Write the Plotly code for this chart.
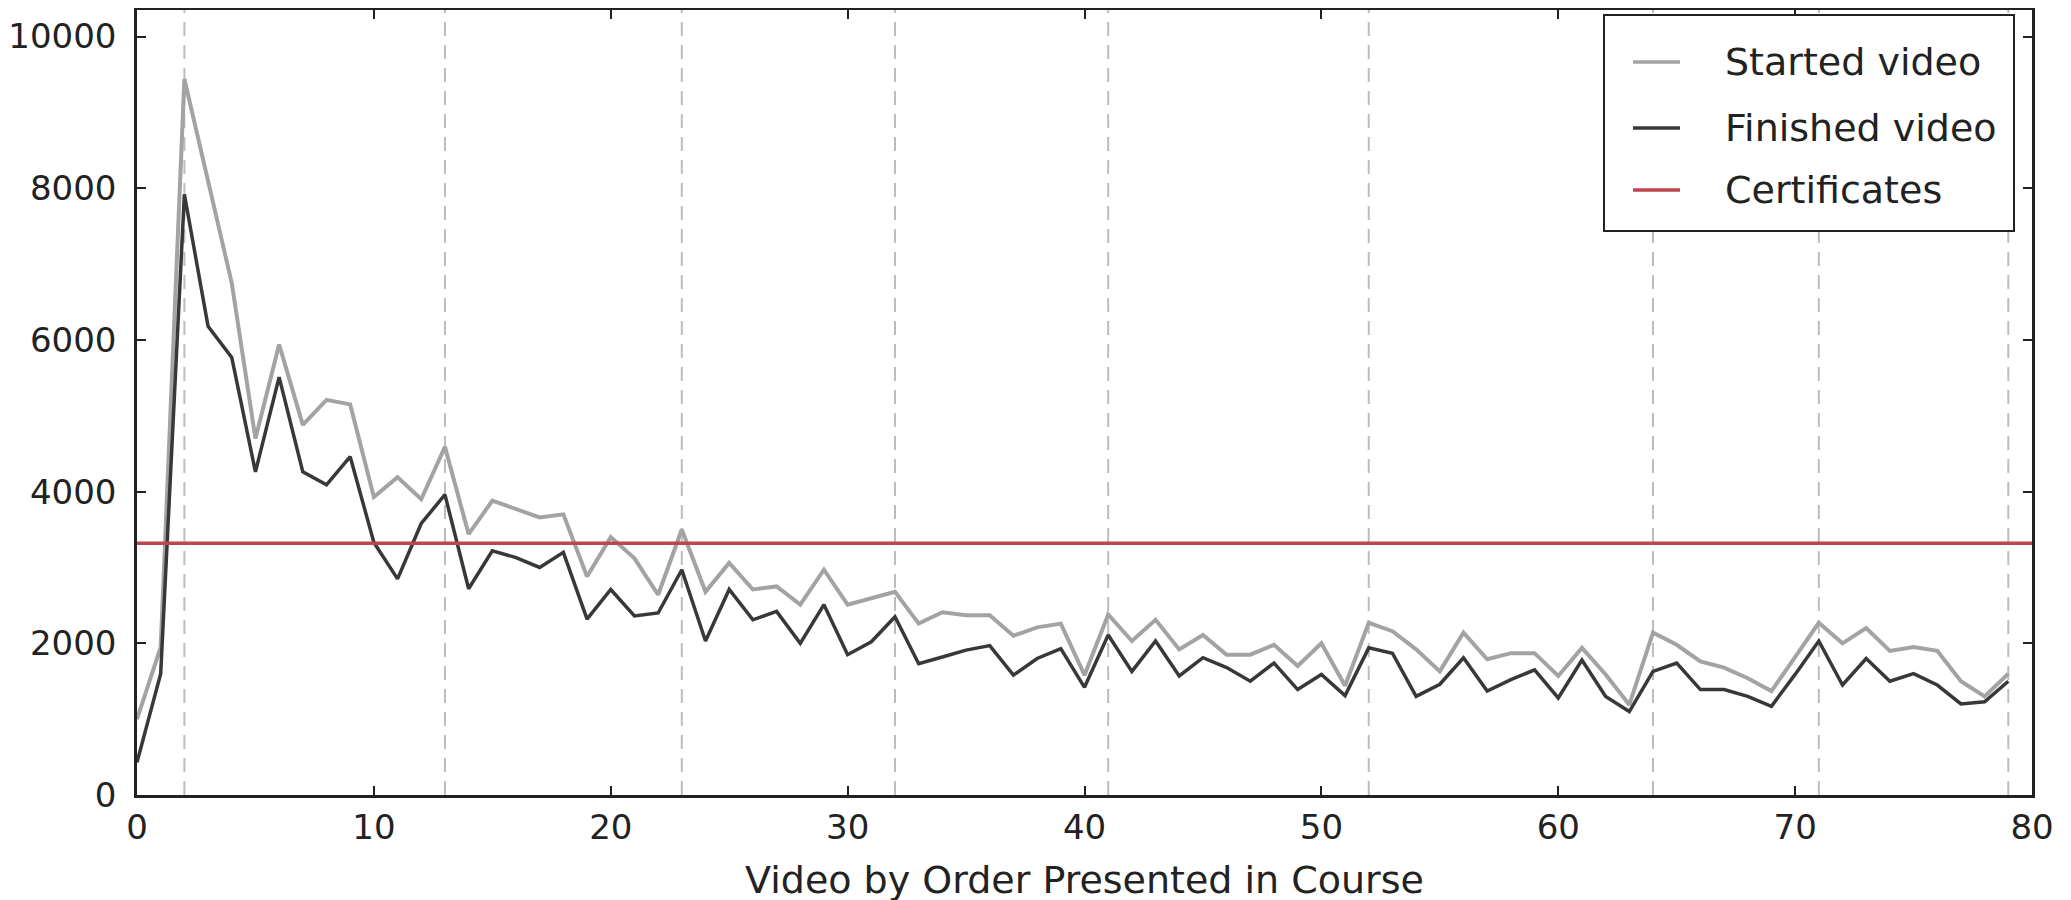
import plotly.graph_objects as go

videos = list(range(80))
started = [1000, 1950, 9440, 8120, 6750, 4700, 5940, 4880, 5210, 5150,
           3930, 4190, 3900, 4590, 3440, 3880, 3770, 3660, 3700, 2880,
           3400, 3120, 2640, 3500, 2680, 3060, 2710, 2750, 2510, 2970,
           2510, 2590, 2680, 2260, 2410, 2370, 2370, 2100, 2210, 2260,
           1580, 2380, 2030, 2310, 1920, 2110, 1850, 1850, 1980, 1700,
           2000, 1440, 2270, 2160, 1920, 1630, 2140, 1790, 1870, 1870,
           1570, 1940, 1590, 1190, 2140, 1980, 1760, 1680, 1540, 1370,
           1810, 2270, 2000, 2200, 1900, 1950, 1900, 1500, 1300, 1600]
finished = [430, 1600, 7920, 6180, 5770, 4260, 5510, 4260, 4090, 4460,
            3330, 2850, 3580, 3960, 2720, 3220, 3130, 3000, 3200, 2320,
            2710, 2360, 2400, 2970, 2030, 2710, 2310, 2420, 2000, 2510,
            1850, 2020, 2350, 1730, 1820, 1910, 1970, 1580, 1800, 1930,
            1420, 2110, 1630, 2030, 1570, 1810, 1680, 1500, 1740, 1390,
            1590, 1310, 1940, 1870, 1300, 1460, 1810, 1370, 1520, 1650,
            1280, 1780, 1300, 1100, 1630, 1740, 1390, 1390, 1300, 1170,
            1590, 2030, 1450, 1800, 1500, 1600, 1450, 1200, 1230, 1500]
certificates = 3320
section_starts = [2, 13, 23, 32, 41, 52, 64, 71, 79]
x_ticks = [0, 10, 20, 30, 40, 50, 60, 70, 80]
y_ticks = [0, 2000, 4000, 6000, 8000, 10000]
y_tick_text = ["0", "2000", "4000", "6000", "8000", "10000"]
legend_names = ["Started video", "Finished video", "Certificates"]
colors = ["#a3a3a3", "#383838", "#c0434e"]

FONT = "DejaVu Sans"
TICK_SIZE = 34
TEXT_SIZE = 38

W, H = 2071, 900
ML, MR, MT, MB = 129, 47, 2, 113
PW, PH = W - ML - MR, H - MT - MB


def px(xp):
    return (xp - ML) / PW


def py(yp):
    return (H - MB - yp) / PH


fig = go.Figure()
fig.add_trace(go.Scatter(x=videos, y=started, mode="lines", name=legend_names[0],
                         line=dict(color=colors[0], width=4)))
fig.add_trace(go.Scatter(x=videos, y=finished, mode="lines", name=legend_names[1],
                         line=dict(color=colors[1], width=3.5)))
fig.add_trace(go.Scatter(x=[x_ticks[0], x_ticks[-1]], y=[certificates, certificates],
                         mode="lines", name=legend_names[2],
                         line=dict(color=colors[2], width=3.5)))

for xs in section_starts:
    fig.add_shape(type="line", xref="x", yref="paper", x0=xs, x1=xs, y0=0, y1=1,
                  line=dict(color="#bdbdbd", width=2, dash="14px,9px"), layer="below")

# legend box (drawn by hand to match the reference's padding)
fig.add_shape(type="rect", xref="paper", yref="paper",
              x0=px(1596), x1=px(2006), y0=py(223), y1=py(7),
              line=dict(color="#222", width=2), fillcolor="white", layer="above")
entry_y = [54, 120, 182]
for name, col, ey in zip(legend_names, colors, entry_y):
    fig.add_shape(type="line", xref="paper", yref="paper",
                  x0=px(1625), x1=px(1672), y0=py(ey), y1=py(ey),
                  line=dict(color=col, width=3.5), layer="above")
    fig.add_annotation(x=px(1715), y=py(ey), xref="paper", yref="paper",
                       text=name, showarrow=False, xanchor="left", yanchor="middle",
                       font=dict(family=FONT, size=TEXT_SIZE, color="#222"))

axis_common = dict(showline=True, linecolor="#222", linewidth=2.5, mirror="ticks",
                   ticks="inside", ticklen=9, tickwidth=1.5, tickcolor="#222",
                   showgrid=False, zeroline=False, automargin=False,
                   tickfont=dict(family=FONT, size=TICK_SIZE, color="#222"))

fig.update_layout(
    width=W, height=H,
    paper_bgcolor="white", plot_bgcolor="white",
    margin=dict(l=ML, r=MR, t=MT, b=MB),
    font=dict(family=FONT, size=TEXT_SIZE, color="#222"),
    xaxis=dict(range=[0, 80], tickvals=x_ticks,
               title=dict(text="Video by Order Presented in Course",
                          font=dict(family=FONT, size=TEXT_SIZE, color="#222"), standoff=21),
               ticklabelstandoff=0, **axis_common),
    yaxis=dict(range=[0, 10350], tickvals=y_ticks, ticktext=y_tick_text,
               ticklabelstandoff=11, **axis_common),
    showlegend=False,
)

fig.write_html("out.html")
